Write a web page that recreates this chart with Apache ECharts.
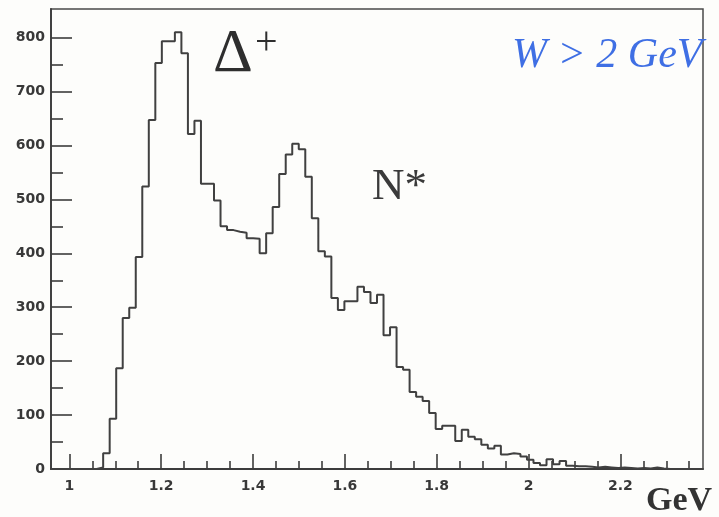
<!DOCTYPE html>
<html>
<head>
<meta charset="utf-8">
<script src="https://cdn.jsdelivr.net/npm/echarts@6/dist/echarts.min.js"></script>
<style>
html, body { margin: 0; padding: 0; background: #fdfdfb; }
#chart { width: 719px; height: 517px; }
</style>
</head>
<body>
<div id="chart"></div>
<script>
// histogram bins: 100 bins from 0.96 GeV, width 0.0142
var binStart = 0.96;
var binWidth = 0.0142;
var counts = [
    0, 0, 0, 0, 0, 0, 0, 3, 29, 93,
    187, 280, 299, 393, 524, 647, 753, 793, 793, 810,
    771, 621, 646, 529, 529, 498, 450, 443, 440, 438,
    428, 427, 400, 437, 486, 547, 583, 603, 593, 542,
    465, 404, 394, 317, 295, 311, 311, 338, 328, 308,
    323, 248, 263, 189, 184, 143, 134, 126, 104, 74,
    80, 80, 52, 73, 60, 55, 45, 38, 43, 27,
    29, 28, 23, 17, 11, 7, 18, 9, 15, 6,
    5, 5, 4, 3, 4, 3, 2, 3, 2, 1,
    2, 1, 3, 1, 0, 0, 0, 0, 0, 0
];

var xLabels = [1, 1.2, 1.4, 1.6, 1.8, 2, 2.2];
var xMinor = [1.05, 1.1, 1.15, 1.25, 1.3, 1.35, 1.45, 1.5, 1.55, 1.65, 1.7, 1.75,
    1.85, 1.9, 1.95, 2.05, 2.1, 2.15, 2.25, 2.3, 2.35];
var yLabels = [0, 100, 200, 300, 400, 500, 600, 700, 800];
var yMinor = [50, 150, 250, 350, 450, 550, 650, 750];

var xMin = 0.96, xMax = 2.38, yMax = 853;

var histData = counts.map(function (c, i) {
    return [binStart + i * binWidth, c];
});
histData.push([binStart + counts.length * binWidth, counts[counts.length - 1]]);

var ink = '#3c3c3c';
var labelFont = { fontFamily: 'DejaVu Sans', fontWeight: 'bold', fontSize: 14, color: '#383838' };

var dom = document.getElementById('chart');
var myChart = echarts.init(dom, null, { renderer: 'canvas' });

var option = {
    animation: false,
    backgroundColor: '#fdfdfb',
    grid: {
        show: true,
        left: 51, top: 9, right: 16, bottom: 48,
        borderColor: '#4a4a4a',
        borderWidth: 1.5,
        backgroundColor: 'transparent'
    },
    xAxis: [
        {
            type: 'value', min: xMin, max: xMax, position: 'bottom',
            axisLine: { lineStyle: { color: ink, width: 1.8 } },
            axisTick: { inside: true, length: 15, customValues: xLabels, lineStyle: { color: ink, width: 1.6 } },
            axisLabel: Object.assign({ margin: 10, customValues: xLabels }, labelFont),
            splitLine: { show: false }
        },
        {
            type: 'value', min: xMin, max: xMax, position: 'bottom',
            axisLine: { show: false },
            axisTick: { inside: true, length: 8, customValues: xMinor, lineStyle: { color: ink, width: 1.6 } },
            axisLabel: { show: false },
            splitLine: { show: false }
        }
    ],
    yAxis: [
        {
            type: 'value', min: 0, max: yMax, position: 'left',
            axisLine: { show: true, lineStyle: { color: ink, width: 1.8 } },
            axisTick: { show: true, inside: true, length: 21, customValues: yLabels, lineStyle: { color: ink, width: 1.6 } },
            axisLabel: Object.assign({ margin: 6, customValues: yLabels }, labelFont),
            splitLine: { show: false }
        },
        {
            type: 'value', min: 0, max: yMax, position: 'left',
            axisLine: { show: false },
            axisTick: { show: true, inside: true, length: 12, customValues: yMinor, lineStyle: { color: ink, width: 1.6 } },
            axisLabel: { show: false },
            splitLine: { show: false }
        }
    ],
    series: [
        {
            type: 'line',
            step: 'end',
            xAxisIndex: 0,
            yAxisIndex: 0,
            showSymbol: false,
            lineStyle: { color: '#404040', width: 2 },
            data: histData
        }
    ],
    graphic: [
        { type: 'text', x: 213, y: 55, style: { text: 'Δ', font: '62px "Liberation Serif"', fill: '#2e2e2e', verticalAlign: 'middle' } },
        { type: 'text', x: 255, y: 43, style: { text: '+', font: '40px "Liberation Serif"', fill: '#2e2e2e', verticalAlign: 'middle' } },
        { type: 'text', x: 372, y: 187, style: { text: 'N*', font: '45px "Liberation Serif"', fill: '#3a3a3a', verticalAlign: 'middle' } },
        { type: 'text', x: 646, y: 501, style: { text: 'GeV', font: 'bold 34px "Liberation Serif"', fill: '#333', verticalAlign: 'middle' } },
        { type: 'text', x: 512, y: 56, style: { text: 'W > 2 GeV', font: 'italic 42px "Liberation Serif"', fill: '#3f6fe4', verticalAlign: 'middle' } }
    ]
};

myChart.setOption(option);
</script>
</body>
</html>
